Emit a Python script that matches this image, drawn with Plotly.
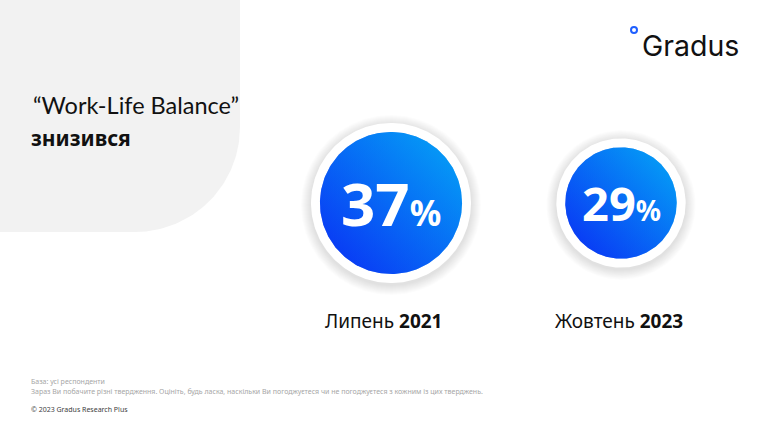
import numpy as np
import plotly.graph_objects as go

# ---- data ----
periods = ["Липень", "Жовтень"]
years = ["2021", "2023"]
values = [37, 29]          # % who say work-life balance decreased
title_line1 = "“Work-Life Balance”"
title_line2 = "знизився"
base_note = "База: усі респонденти"
question_note = ("Зараз Ви побачите різні твердження. Оцініть, будь ласка, наскільки Ви "
                 "погоджуєтеся чи не погоджуєтеся з кожним із цих тверджень.")
copyright_note = "© 2023 Gradus Research Plus"
brand = "Gradus"

W, H = 764, 429
centers_x = [391, 621]
label_x = [384, 619]
center_y = 203
px_per_pct = 1.92          # bubble radius scale
ring = 9

DARK = "#0a2cf4"
LIGHT = "#04a8f6"
CYR = "Noto Sans, Open Sans, sans-serif"
LAT = "Lato, Noto Sans, sans-serif"

fig = go.Figure()


def circle(cx, cy, r, n=240):
    t = np.linspace(0, 2 * np.pi, n)
    return cx + r * np.cos(t), cy + r * np.sin(t)


# grey rounded panel (top-left)
R = 105
pw, ph = 240, 232
t = np.linspace(0, np.pi / 2, 60)
px = [0, pw] + list(pw - R + R * np.cos(t)) + [0, 0]
py = [0, 0] + list(ph - R + R * np.sin(t)) + [ph, 0]
fig.add_trace(go.Scatter(x=px, y=py, fill="toself", fillcolor="#f2f2f2",
                         line=dict(width=0), mode="lines", hoverinfo="skip"))

for cx, v in zip(centers_x, values):
    r_in = v * px_per_pct
    r_out = r_in + ring
    # soft shadow
    for k in range(10, 0, -1):
        x, y = circle(cx, center_y + 2, r_out + k)
        fig.add_trace(go.Scatter(x=x, y=y, fill="toself", fillcolor="rgba(0,0,0,0.012)",
                                 line=dict(width=0), mode="lines", hoverinfo="skip"))
    x, y = circle(cx, center_y, r_out)
    fig.add_trace(go.Scatter(x=x, y=y, fill="toself", fillcolor="white",
                             line=dict(width=0), mode="lines", hoverinfo="skip"))
    # diagonal gradient = horizontal + vertical at half opacity
    x, y = circle(cx, center_y, r_in)
    fig.add_trace(go.Scatter(x=x, y=y, fill="toself",
                             fillgradient=dict(type="horizontal",
                                               colorscale=[[0, DARK], [1, LIGHT]]),
                             line=dict(width=0), mode="lines", hoverinfo="skip"))
    fig.add_trace(go.Scatter(x=x, y=y, fill="toself",
                             fillgradient=dict(type="vertical",
                                               colorscale=[[0, DARK], [1, LIGHT]]),
                             opacity=0.5,
                             line=dict(width=0), mode="lines", hoverinfo="skip"))

annotations = []
for cx, lx, v, p, yr in zip(centers_x, label_x, values, periods, years):
    big = round(v * 1.62)
    small = round(v * 0.95)
    annotations.append(dict(
        x=cx, y=center_y, xref="x", yref="y", showarrow=False,
        text=f"<b>{v}<span style='font-size:{small}px'>%</span></b>",
        font=dict(family=CYR, size=big, color="white"),
        xanchor="center", yanchor="middle"))
    annotations.append(dict(
        x=lx, y=321, xref="x", yref="y", showarrow=False,
        text=f"{p} <b>{yr}</b>",
        font=dict(family=CYR, size=19, color="#111111"),
        xanchor="center", yanchor="middle"))

annotations += [
    dict(x=31, y=105, xref="x", yref="y", showarrow=False, text=title_line1,
         font=dict(family=LAT, size=23.5, color="#111111"), xanchor="left", yanchor="middle"),
    dict(x=29, y=138, xref="x", yref="y", showarrow=False, text=f"<b>{title_line2}</b>",
         font=dict(family=CYR, size=21, color="#111111"), xanchor="left", yanchor="middle"),
    dict(x=29, y=381, xref="x", yref="y", showarrow=False, text=base_note,
         font=dict(family=CYR, size=7.0, color="#a6a6a6"), xanchor="left", yanchor="middle"),
    dict(x=29, y=391, xref="x", yref="y", showarrow=False, text=question_note,
         font=dict(family=CYR, size=7.0, color="#a6a6a6"), xanchor="left", yanchor="middle"),
    dict(x=29, y=409, xref="x", yref="y", showarrow=False, text=copyright_note,
         font=dict(family=CYR, size=7.0, color="#404040"), xanchor="left", yanchor="middle"),
    dict(x=640, y=45, xref="x", yref="y", showarrow=False, text=brand,
         font=dict(family="Inter, Roboto, sans-serif", size=28.5, color="#111111"),
         xanchor="left", yanchor="middle"),
]

fig.add_shape(type="circle", xref="x", yref="y", x0=631, x1=637, y0=27, y1=33,
              line=dict(color="#1f5fff", width=2), fillcolor="white")

fig.update_layout(
    width=W, height=H, margin=dict(l=0, r=0, t=0, b=0),
    paper_bgcolor="white", plot_bgcolor="white", showlegend=False,
    xaxis=dict(range=[0, W], visible=False, fixedrange=True),
    yaxis=dict(range=[H, 0], visible=False, fixedrange=True),
    annotations=annotations,
)
fig.write_html("out.html", config={"displayModeBar": False},
               post_script="document.body.style.margin='0';document.body.style.overflow='hidden';")
